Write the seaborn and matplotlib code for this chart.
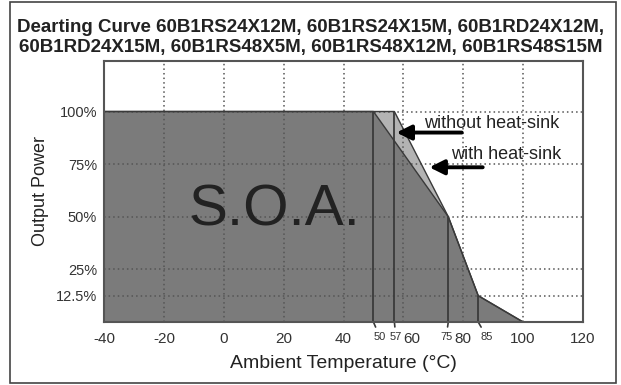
import matplotlib
matplotlib.use("Agg")
import matplotlib.pyplot as plt
import matplotlib.patches as mpatches
import matplotlib.transforms as mtransforms
import numpy as np
import pandas as pd
import seaborn as sns

# derating curves (ambient temp in degC, output power in %)
temp_no_sink = [-40, 50, 75, 85, 100]
power_no_sink = [100, 100, 50, 12.5, 0]
temp_sink = [-40, 57, 75, 85, 100]
power_sink = [100, 100, 50, 12.5, 0]

marked_temps = [50, 57, 75, 85]
marked_offsets = [4.5, 1, -1.5, 6]  # label shift in points
major_xticks = [-40, -20, 0, 20, 40, 60, 80, 100, 120]
yticks = [12.5, 25, 50, 75, 100]
ytick_labels = ["12.5%", "25%", "50%", "75%", "100%"]

title = ("Dearting Curve 60B1RS24X12M, 60B1RS24X15M, 60B1RD24X12M,\n"
         "60B1RD24X15M, 60B1RS48X5M, 60B1RS48X12M, 60B1RS48S15M")

sns.set_theme(style="white")
plt.rcParams["font.family"] = ["Liberation Sans", "DejaVu Sans"]

DARK = "#7b7b7b"
LIGHT = "#b3b3b3"
EDGE = "#3a3a3a"
TXT = "#333333"

fig = plt.figure(figsize=(6.21, 3.85), dpi=100)
ax = fig.add_axes([0.1675, 0.1636, 0.7713, 0.678])

ax.fill_between(temp_sink, power_sink, color=LIGHT, lw=0, zorder=1)
ax.fill_between(temp_no_sink, power_no_sink, color=DARK, lw=0, zorder=1.5)
df = pd.concat([
    pd.DataFrame({"t": temp_sink, "p": power_sink, "c": "with"}),
    pd.DataFrame({"t": temp_no_sink, "p": power_no_sink, "c": "without"}),
])
sns.lineplot(data=df, x="t", y="p", units="c", estimator=None, sort=False,
             color=EDGE, lw=1.0, ax=ax, zorder=3)

# vertical markers from the axis up to the curve
tops = np.interp(marked_temps, temp_sink, power_sink)
ax.vlines(marked_temps, 0, tops, color=EDGE, lw=1.3, zorder=3)

# dotted grid on top of the fill
for x in major_xticks[1:-1]:
    ax.axvline(x, color="#555555", ls=(0, (1, 2)), lw=1.1, zorder=2)
for y in yticks:
    ax.axhline(y, color="#555555", ls=(0, (1, 2)), lw=1.1, zorder=2)

ax.set_xlim(-40, 120)
ax.set_ylim(0, 124)
ax.set_xticks(major_xticks)
ax.set_xticklabels([str(v) for v in major_xticks], fontsize=11, color=TXT)
ax.set_yticks(yticks)
ax.set_yticklabels(ytick_labels, fontsize=10.5, color=TXT)
ax.tick_params(length=0)
ax.tick_params(axis="x", pad=7)
ax.tick_params(axis="y", pad=5)
# nudge the "60" label right to leave room for "57"
lab60 = ax.get_xticklabels()[major_xticks.index(60)]
lab60.set_transform(lab60.get_transform() +
                    mtransforms.ScaledTranslation(6 / 72, 0, fig.dpi_scale_trans))

ax.set_xlabel("Ambient Temperature (°C)", fontsize=14, color="#222222", labelpad=7)
ax.set_ylabel("Output Power", fontsize=13, color="#222222", labelpad=5)
for s in ax.spines.values():
    s.set_color("#555555")
    s.set_linewidth(1.5)
    s.set_zorder(4)

# small labels for the derating points with leader lines
for t, dx in zip(marked_temps, marked_offsets):
    ax.annotate(str(t), xy=(t, 0), xytext=(dx, -10.5), textcoords="offset points",
                ha="center", va="center", fontsize=8, color=TXT,
                annotation_clip=False,
                arrowprops=dict(arrowstyle="-", color=EDGE, lw=1.2,
                                shrinkA=1, shrinkB=0))

ax.text(17, 53, "S.O.A.", fontsize=42, color="#222222", ha="center", va="center", zorder=5)

arrow = dict(arrowstyle="-|>", color="black", lw=2.8, mutation_scale=22,
             shrinkA=0, shrinkB=0)
ax.annotate("", xy=(57.7, 90), xytext=(79.5, 90), arrowprops=arrow, zorder=5)
ax.annotate("", xy=(68.7, 73.5), xytext=(86.5, 73.5), arrowprops=arrow, zorder=5)
ax.text(67, 94.5, "without heat-sink", fontsize=13, color="#222222", va="center", zorder=5)
ax.text(76, 79.5, "with heat-sink", fontsize=13, color="#222222", va="center", zorder=5)

fig.text(0.5, 0.902, title, ha="center", va="center", fontsize=13.5,
         fontweight="bold", color="#222222", linespacing=1.2)

# outer frame
fig.patches.append(mpatches.Rectangle((0.016, 0.005), 0.976, 0.99, transform=fig.transFigure,
                                      fill=False, edgecolor="#444444", lw=1.2))

fig.savefig("out.png", dpi=100)
